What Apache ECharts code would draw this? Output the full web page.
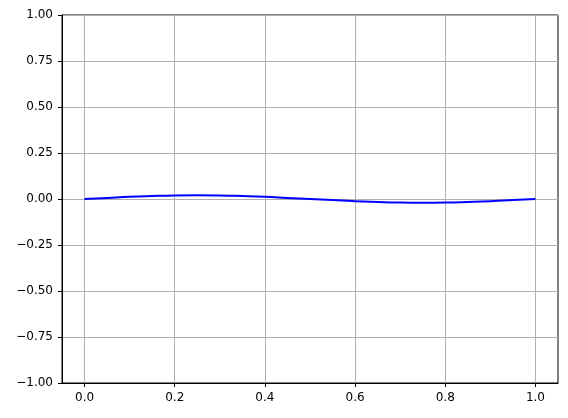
<!DOCTYPE html>
<html>
<head>
<meta charset="utf-8">
<script src="https://cdn.jsdelivr.net/npm/echarts@6/dist/echarts.min.js"></script>
<style>
  html, body { margin: 0; padding: 0; background: #fff; }
  #chart { width: 568px; height: 418px; }
</style>
</head>
<body>
<div id="chart"></div>
<script>
// x positions of the curve
const xs = [0, 0.05, 0.1, 0.15, 0.2, 0.25, 0.3, 0.35, 0.4, 0.45, 0.5,
  0.55, 0.6, 0.65, 0.7, 0.75, 0.8, 0.85, 0.9, 0.95, 1]
// y values (small wave around 0)
const ys = [0, 0.006, 0.012, 0.016, 0.019, 0.02, 0.019, 0.016, 0.012, 0.006, 0,
  -0.006, -0.012, -0.016, -0.019, -0.02, -0.019, -0.016, -0.012, -0.006, 0]
// tick labels
const xTicks = [0, 0.2, 0.4, 0.6, 0.8, 1.0]
const yMin = -1, yMax = 1, yStep = 0.25

const chart = echarts.init(document.getElementById('chart'))
const font = 'DejaVu Sans'

let option = {
  animation: false,
  grid: {
    left: 62, top: 15, right: 10, bottom: 35,
    show: true,
    borderColor: '#000',
    borderWidth: 1
  },
  xAxis: {
    type: 'value',
    min: -0.05,
    max: 1.05,
    axisLine: { show: true, onZero: false, lineStyle: { color: '#000', width: 1 } },
    axisTick: { show: true, customValues: xTicks, length: 4, lineStyle: { color: '#000' } },
    axisLabel: {
      customValues: xTicks,
      margin: 9,
      color: '#000',
      fontFamily: font,
      fontSize: 12,
      formatter: v => v.toFixed(1)
    },
    splitLine: { show: false }
  },
  yAxis: {
    type: 'value',
    min: yMin,
    max: yMax,
    interval: yStep,
    axisLine: { show: true, onZero: false, lineStyle: { color: '#000', width: 1 } },
    axisTick: { show: true, length: 4, lineStyle: { color: '#000' } },
    axisLabel: {
      margin: 9,
      color: '#000',
      fontFamily: font,
      fontSize: 12,
      formatter: v => (v < 0 ? '\u2212' : '') + Math.abs(v).toFixed(2)
    },
    splitLine: { show: true, lineStyle: { color: '#b0b0b0', width: 1 } }
  },
  series: [
    {
      // vertical grid lines at the x ticks
      type: 'line',
      data: [],
      z: 1,
      markLine: {
        silent: true,
        symbol: 'none',
        label: { show: false },
        lineStyle: { color: '#b0b0b0', width: 1, type: 'solid' },
        data: xTicks.map(v => ({ xAxis: v }))
      }
    },
    {
      type: 'line',
      z: 5,
      data: xs.map((x, i) => [x, ys[i]]),
      smooth: true,
      showSymbol: false,
      lineStyle: { color: '#0000ff', width: 2 }
    }
  ]
}
chart.setOption(option)
</script>
</body>
</html>
